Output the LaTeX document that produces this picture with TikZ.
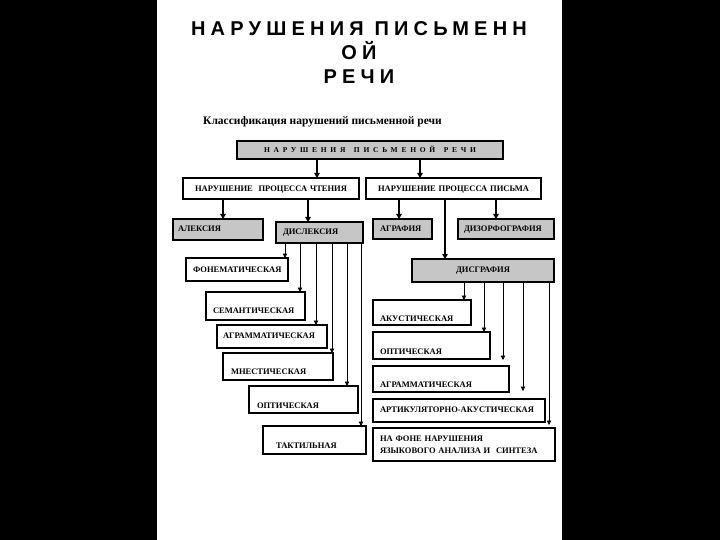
\documentclass[tikz,border=0pt]{standalone}
\usepackage{fontspec}
\setmainfont{Liberation Serif}
\newfontfamily\titlefont[LetterSpace=26]{Liberation Sans}
\newfontfamily\rootfont[LetterSpace=50]{Liberation Serif}
\usetikzlibrary{arrows.meta}
\definecolor{schemeGray}{RGB}{198,198,198}

\begin{document}
\begin{tikzpicture}[
    x=1pt, y=-1pt,
    leaf node/.style={rectangle, draw=black, line width=1.3pt, fill=white, outer sep=0pt, inner ysep=0pt, inner xsep=7pt, anchor=north west, align=left, font=\bfseries\fontsize{8.5}{11.5}\selectfont},
    group node/.style={leaf node, fill=schemeGray},
    box dim/.style n args={3}{text width=#1pt, text height=#2pt, text depth=#3pt},
    main arrow/.style={line width=1.6pt, -{Triangle[length=5pt, width=5.5pt]}},
    sub arrow/.style={line width=0.8pt, -{Triangle[length=4.5pt, width=4.5pt]}}
]
  % page
  \fill[black] (0,0) rectangle (720,540);
  \fill[white] (157,0) rectangle (562,540);

  \node[align=center, inner sep=0pt, anchor=north, font=\titlefont\bfseries\fontsize{20}{24}\selectfont] (title) at (359,21.7) {НАРУШЕНИЯ ПИСЬМЕНН\\ОЙ\\РЕЧИ};
  \node[anchor=base west, inner sep=0pt, font=\bfseries\fontsize{11.5}{13}\selectfont] (subtitle) at (203,125) {Классификация нарушений письменной речи};

  % top levels
  \node[group node, align=center, box dim={252}{12}{6}, font=\rootfont\bfseries\fontsize{7.5}{8}\selectfont] (root) at (237,141) {НАРУШЕНИЯ\hspace{6pt} ПИСЬМЕНОЙ\hspace{6pt} РЕЧИ};
  \node[leaf node, align=center, box dim={162}{14}{7}] (readL) at (183,178) {НАРУШЕНИЕ\ \ ПРОЦЕССА ЧТЕНИЯ};
  \node[leaf node, align=center, box dim={161}{14}{7}] (readW) at (366,178) {НАРУШЕНИЕ ПРОЦЕССА ПИСЬМА};

  % reading
  \node[group node, inner xsep=5pt, box dim={80}{12}{9}] (alex) at (173,219) {АЛЕКСИЯ};
  \node[group node, box dim={73}{12}{9}] (dislex) at (276,222) {ДИСЛЕКСИЯ};
  \node[leaf node, box dim={88}{14}{9}] (fonem) at (186,258) {ФОНЕМАТИЧЕСКАЯ};
  \node[leaf node, box dim={85}{21}{7}] (seman) at (206,292) {СЕМАНТИЧЕСКАЯ};
  \node[leaf node, inner xsep=6pt, box dim={98}{13}{10}] (agram) at (217,325) {АГРАММАТИЧЕСКАЯ};
  \node[leaf node, inner xsep=8pt, box dim={94}{21}{6}] (mnest) at (223,353) {МНЕСТИЧЕСКАЯ};
  \node[leaf node, inner xsep=8pt, box dim={93}{22}{5}] (optL) at (249,386) {ОПТИЧЕСКАЯ};
  \node[leaf node, inner xsep=13pt, box dim={77}{22}{6}] (takt) at (263,426) {ТАКТИЛЬНАЯ};

  % writing
  \node[group node, box dim={45}{13}{7}] (agraf) at (373,219) {АГРАФИЯ};
  \node[group node, inner xsep=6pt, box dim={84}{13}{7}] (dizor) at (458,219) {ДИЗОРФОГРАФИЯ};
  \node[group node, align=center, box dim={128}{13}{10}] (disgraf) at (412,259) {ДИСГРАФИЯ};
  \node[leaf node, box dim={84}{21}{4}] (akust) at (373,300) {АКУСТИЧЕСКАЯ};
  \node[leaf node, box dim={103}{22}{5}] (optR) at (373,332) {ОПТИЧЕСКАЯ};
  \node[leaf node, box dim={122}{21}{5}] (agramR) at (373,366) {АГРАММАТИЧЕСКАЯ};
  \node[leaf node, box dim={158}{13}{10}] (artik) at (373,399) {АРТИКУЛЯТОРНО-АКУСТИЧЕСКАЯ};
  \node[leaf node, text width=168pt, minimum height=33pt] (nafone) at (373,428) {НА ФОНЕ НАРУШЕНИЯ\\ЯЗЫКОВОГО АНАЛИЗА И\ \ СИНТЕЗА};

  \draw[main arrow] (root.south -| 317,0) -- (readL.north -| 317,0);
  \draw[main arrow] (root.south -| 420,0) -- (readW.north -| 420,0);
  \draw[main arrow] (readL.south -| 223,0) -- (alex.north -| 223,0);
  \draw[main arrow] (readL.south -| 308,0) -- (dislex.north -| 308,0);
  \draw[main arrow] (readW.south -| 399,0) -- (agraf.north -| 399,0);
  \draw[main arrow] (readW.south -| 496,0) -- (dizor.north -| 496,0);
  \draw[main arrow] (readW.south -| 445,0) -- (disgraf.north -| 445,0);

  \foreach \leaf/\xpos/\gap in {fonem/285/0, seman/300/0, agram/316/0, mnest/332/0, optL/347/0, takt/361/0}
    \draw[sub arrow, shorten >=\gap pt] (dislex.south -| \xpos,0) -- (\leaf.north -| \xpos,0);
  \foreach \leaf/\xpos/\gap in {akust/464/0, optR/484/0, agramR/503/6, artik/523/8, nafone/549/3}
    \draw[sub arrow, shorten >=\gap pt] (disgraf.south -| \xpos,0) -- (\leaf.north -| \xpos,0);
\end{tikzpicture}
\end{document}
